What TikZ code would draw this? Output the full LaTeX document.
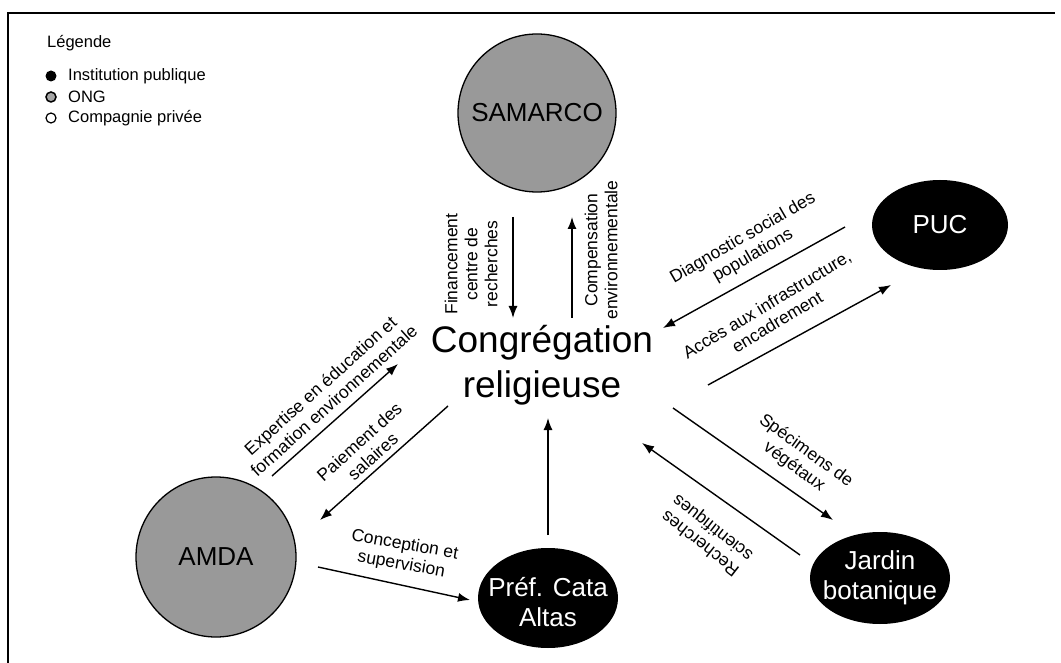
\documentclass[tikz,border=0pt]{standalone}
\usepackage{fontspec}
\setmainfont{Liberation Sans}
\usetikzlibrary{arrows.meta,shapes.geometric}
\begin{document}
\begin{tikzpicture}[x=1pt,y=-1pt,
  flow/.style={line width=1.4pt,-{Latex[length=12pt,width=9pt]}},
  lab/.style={font=\fontsize{17.5}{20}\selectfont,align=center,inner sep=0pt},
  ong/.style={circle,draw=black,line width=1.3pt,fill=black!40,inner sep=0pt},
  pub/.style={ellipse,fill=black,inner sep=0pt},
  nodetext/.style={font=\fontsize{26}{30}\selectfont,align=center,inner sep=0pt},
  legtext/.style={font=\fontsize{16.5}{19}\selectfont,anchor=west,inner sep=0pt}]
\useasboundingbox (0,0) rectangle (1061,663);
\fill[white] (0,0) rectangle (1061,663);
% frame
\draw[line width=1.5pt] (8,663) -- (8,13) -- (1055,13);
% legend
\node[legtext] (leg) at (47,43) {Légende};
\node[circle,fill=black,minimum size=11pt,inner sep=0pt] (b1) at (51,76) {};
\node[legtext] (l1) at (68,76) {Institution publique};
\node[circle,draw=black,line width=1.5pt,fill=black!35,minimum size=10pt,inner sep=0pt] (b2) at (51,97) {};
\node[legtext] (l2) at (68,97) {ONG};
\node[circle,draw=black,line width=1.2pt,fill=white,minimum size=10pt,inner sep=0pt] (b3) at (51,118) {};
\node[legtext] (l3) at (68,118) {Compagnie privée};
% nodes
\node[ong,minimum size=158pt] (sam) at (537,113) {};
\node[nodetext] at (sam) {SAMARCO};
\node[pub,minimum width=136pt,minimum height=90pt] (puc) at (940,225) {};
\node[nodetext,white] at (puc) {PUC};
\node[ong,minimum size=160pt] (amda) at (216,557) {};
\node[nodetext] at (amda) {AMDA};
\node[pub,minimum width=140pt,minimum height=100pt] (pref) at (548,598) {};
\node[nodetext,white] at ([yshift=-4pt]pref.center) {Préf. Cata\\Altas};
\node[pub,minimum width=140pt,minimum height=92pt] (jar) at (880,578) {};
\node[nodetext,white] at (jar) {Jardin\\botanique};
\node[font=\fontsize{37}{45}\selectfont,align=center,inner sep=0pt] (cong) at (542,365) {Congrégation\\religieuse};
% arrow end points
\coordinate (f1) at (513,217); \coordinate (f2) at (513,318);
\coordinate (c1) at (572,318); \coordinate (c2) at (572,217);
\coordinate (d1) at (845,227); \coordinate (d2) at (663,328);
\coordinate (a1) at (708,385); \coordinate (a2) at (891,285);
\coordinate (s1) at (673,408); \coordinate (s2) at (833,520);
\coordinate (r1) at (800,555); \coordinate (r2) at (642,443);
\coordinate (e1) at (272,476); \coordinate (e2) at (398,364);
\coordinate (p1) at (448,406); \coordinate (p2) at (320,520);
\coordinate (k1) at (318,567); \coordinate (k2) at (470,600);
\coordinate (u1) at (548,535); \coordinate (u2) at (548,418);
\draw[flow] (f1) -- (f2);
\draw[flow] (c1) -- (c2);
\draw[flow] (d1) -- (d2);
\draw[flow] (a1) -- (a2);
\draw[flow] (s1) -- (s2);
\draw[flow] (r1) -- (r2);
\draw[flow] (e1) -- (e2);
\draw[flow] (p1) -- (p2);
\draw[flow] (k1) -- (k2);
\draw[flow] (u1) -- (u2);
% labels
\node[lab,rotate=90] (lf) at (471,264) {Financement\\centre de\\recherches};
\node[lab,rotate=90] (lc) at (601,250) {Compensation\\environnementale};
\node[lab,rotate=30] (ld) at (748,247) {Diagnostic social des\\populations};
\node[lab,rotate=31] (la) at (772,313) {Accès aux infrastructure,\\encadrement};
\node[lab,rotate=-36] (ls) at (800,459) {Spécimens de\\végétaux};
\node[lab,rotate=142] (lr) at (707,535) {Recherches\\scientifiques};
\node[lab,rotate=42] (le) at (327,393) {Expertise en éducation et\\formation environnementale};
\node[lab,rotate=42] (lp) at (366,449) {Paiement des\\salaires};
\node[lab,rotate=-10] (lk) at (403,555) {Conception et\\supervision};
\end{tikzpicture}
\end{document}
